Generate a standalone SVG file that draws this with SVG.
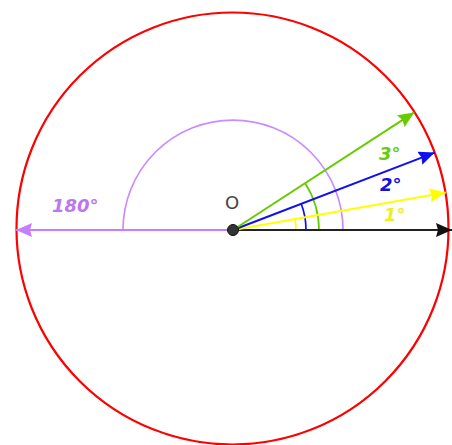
<svg xmlns="http://www.w3.org/2000/svg" width="452" height="445" viewBox="0 0 452 445">
<style>
.lbl{font-family:"DejaVu Sans","Liberation Sans",sans-serif;font-weight:bold;font-style:italic;font-size:18px}
.arc{fill:none;stroke-width:1.7}
.ray{stroke-width:2;fill:none}
</style>
<defs>
<marker id="mG" markerUnits="userSpaceOnUse" markerWidth="18" markerHeight="16" refX="16" refY="7" orient="auto"><path d="M0,0 L16,7 L0,14 L2,7 Z" fill="#66cc00"/></marker>
<marker id="mB" markerUnits="userSpaceOnUse" markerWidth="18" markerHeight="16" refX="16" refY="7" orient="auto"><path d="M0,0 L16,7 L0,14 L2,7 Z" fill="#1010ee"/></marker>
<marker id="mY" markerUnits="userSpaceOnUse" markerWidth="18" markerHeight="16" refX="16" refY="7" orient="auto"><path d="M0,0 L16,7 L0,14 L2,7 Z" fill="#ffff00"/></marker>
<marker id="mK" markerUnits="userSpaceOnUse" markerWidth="18" markerHeight="16" refX="16" refY="7" orient="auto"><path d="M0,0 L16,7 L0,14 L2,7 Z" fill="#111"/></marker>
<marker id="mP" markerUnits="userSpaceOnUse" markerWidth="18" markerHeight="16" refX="16" refY="7" orient="auto"><path d="M0,0 L16,7 L0,14 L2,7 Z" fill="#c77dff"/></marker>
</defs>
<g id="circle"><circle cx="232.5" cy="228.5" r="216" fill="none" stroke="#ff0000" stroke-width="2.2"/></g>
<g id="arcs">
<path class="arc" stroke="#c98cff" d="M343,230 A110,110 0 0 0 123,230"/>
<path class="arc" stroke="#66cc00" d="M319,230 A86,86 0 0 0 305.1,183.2"/>
<path class="arc" stroke="#1010ee" d="M306,230 A73,73 0 0 0 301.2,203.8"/>
<path class="arc" stroke="#ffff00" d="M296,230 A63,63 0 0 0 295,219.1"/>
</g>
<g id="connectors">
<line class="ray" x1="233" y1="230" x2="16" y2="230" stroke="#c77dff" marker-end="url(#mP)"/>
<line class="ray" x1="233" y1="230" x2="452" y2="230" stroke="#222" marker-end="url(#mK)"/>
<line class="ray" x1="233" y1="230" x2="445.7" y2="192.5" stroke="#ffff00" marker-end="url(#mY)"/>
<line class="ray" x1="233" y1="230" x2="434.7" y2="152.6" stroke="#1010ee" marker-end="url(#mB)"/>
<line class="ray" x1="233" y1="230" x2="414.2" y2="112.4" stroke="#66cc00" marker-end="url(#mG)"/>
</g>
<g id="origin">
<circle cx="233" cy="230" r="5.5" fill="#333" stroke="#111" stroke-width="1"/>
<text x="232" y="209" text-anchor="middle" font-family="DejaVu Sans, Liberation Sans, sans-serif" font-size="18" fill="#444">O</text>
</g>
<g id="labels">
<text class="lbl" x="52" y="212" fill="#bb77ee">180°</text>
<text class="lbl" x="379" y="160" fill="#66cc11">3°</text>
<text class="lbl" x="380" y="190.5" fill="#1111dd">2°</text>
<text class="lbl" x="384" y="220.5" fill="#eeee22">1°</text>
</g>
</svg>
